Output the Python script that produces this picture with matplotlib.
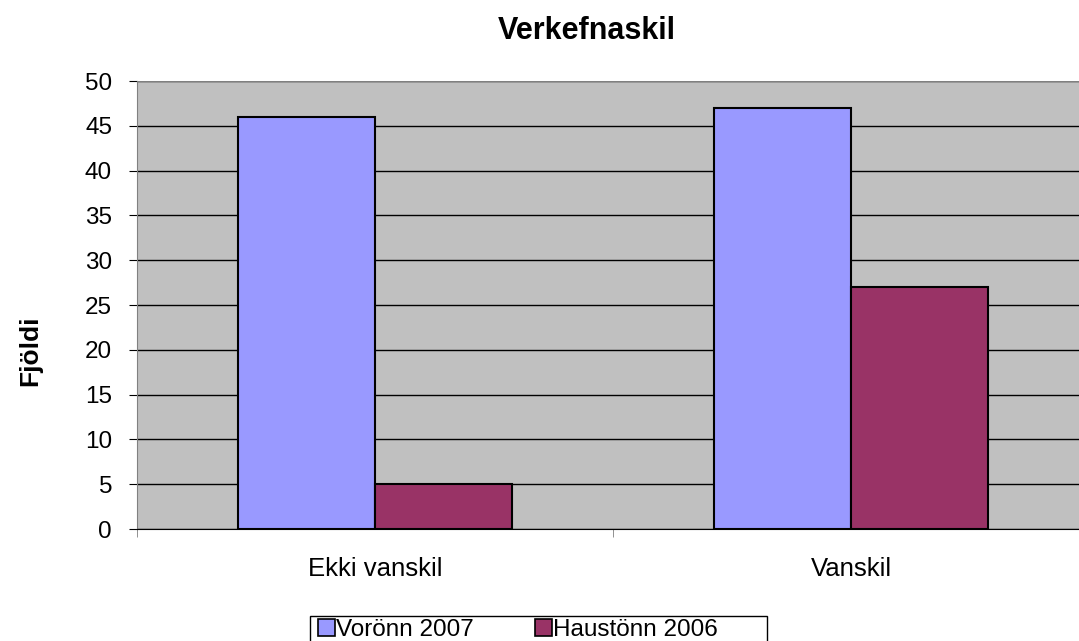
import matplotlib
matplotlib.use("Agg")
import matplotlib.pyplot as plt
from matplotlib.patches import Patch, Rectangle
import numpy as np

categories = ["Ekki vanskil", "Vanskil"]
series_names = ["Vorönn 2007", "Haustönn 2006"]
vor2007 = [46, 47]
haust2006 = [5, 27]
colors = ["#9999FF", "#993366"]

plt.rcParams['font.family'] = ['Liberation Sans', 'DejaVu Sans']

fig = plt.figure(figsize=(10.79, 6.41), dpi=100)
ax = fig.add_axes([137/1079, (641-529)/641, (1089-137)/1079, (529-81)/641])
ax.set_facecolor("#C0C0C0")

x = np.arange(len(categories))
w = 0.287
ax.bar(x - w/2, vor2007, w, color=colors[0], edgecolor="black", linewidth=1.5, zorder=3)
ax.bar(x + w/2, haust2006, w, color=colors[1], edgecolor="black", linewidth=1.5, zorder=3)

ax.set_xlim(-0.5, 1.5)
ax.set_ylim(0, 50)
ax.set_yticks(np.arange(0, 51, 5))
ax.yaxis.grid(True, color="black", linewidth=1, zorder=1)
ax.set_axisbelow(True)
ax.set_xticks(x)
ax.set_xticklabels(categories, fontsize=18.5)
ax.tick_params(axis='x', length=0, pad=20)
ax.set_xticks([-0.5, 0.5, 1.5], minor=True)
ax.tick_params(axis='x', which='minor', length=6, color="#808080")
ax.tick_params(axis='y', labelsize=17.5, length=6, color="black", pad=12)
for s in ["top", "right"]:
    ax.spines[s].set_visible(False)
ax.spines["left"].set_color("#808080")
ax.spines["bottom"].set_color("black")
ax.axhline(50, color="#808080", linewidth=1.5, zorder=2)

fig.text(587/1079, 1 - 31/641, "Verkefnaskil", ha="center", va="center", fontsize=22, fontweight="bold")
fig.text(30/1079, 1 - 351/641, "Fjöldi", ha="center", va="center", rotation=90, fontsize=19, fontweight="bold")

# legend frame
fig.patches.append(Rectangle((310/1079, (641-660)/641), (767-310)/1079, 44/641,
                             transform=fig.transFigure, facecolor="white",
                             edgecolor="black", linewidth=1.0, zorder=1))
handles = [Patch(facecolor=c, edgecolor="black", linewidth=1.2) for c in colors]
leg = fig.legend(handles, series_names, loc="center left", bbox_to_anchor=(318/1079, 1 - 630/641),
                 ncol=2, fontsize=17.5, frameon=False,
                 handlelength=0.7, handleheight=0.7, handletextpad=0.05, columnspacing=2.5,
                 borderpad=0.0, borderaxespad=0)
leg.set_zorder(5)

fig.savefig("out.png", dpi=100)
